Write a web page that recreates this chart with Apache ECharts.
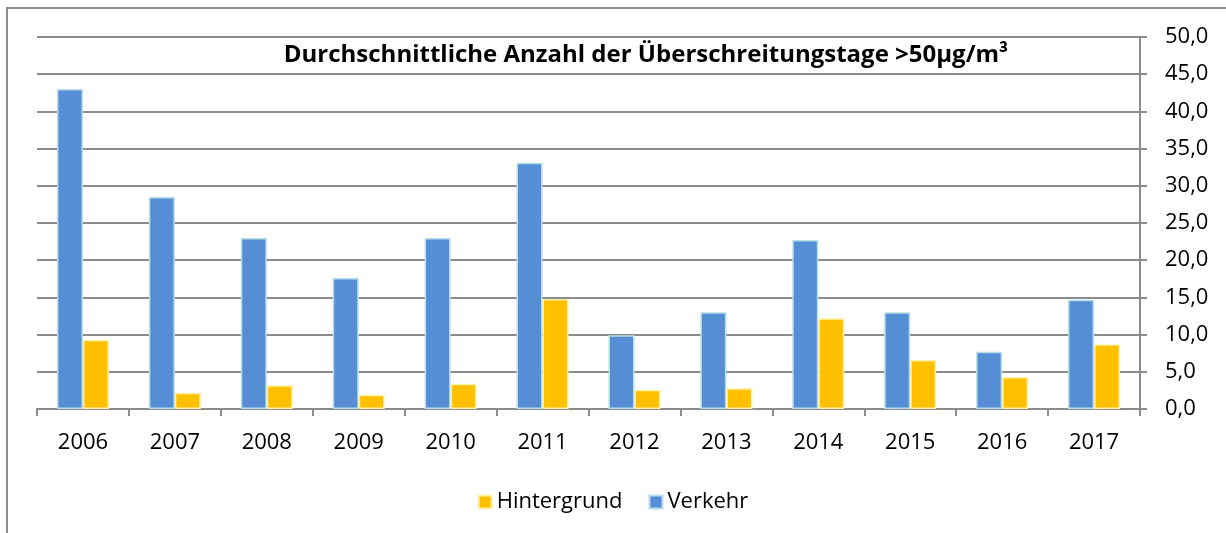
<!DOCTYPE html>
<html>
<head>
<meta charset="utf-8">
<script src="https://cdn.jsdelivr.net/npm/echarts@6/dist/echarts.min.js"></script>
<style>
  html, body { margin: 0; padding: 0; background: #fff; }
  #frame { position: absolute; left: 6px; top: 7px; width: 1230px; height: 540px; border-left: 2px solid #8c8c8c; border-top: 2px solid #8c8c8c; }
  #chart { position: absolute; left: 0; top: 0; width: 1226px; height: 533px; }
</style>
</head>
<body>
<div id="frame"></div>
<div id="chart"></div>
<script>
var years = ['2006', '2007', '2008', '2009', '2010', '2011', '2012', '2013', '2014', '2015', '2016', '2017'];
var verkehr = [43.0, 28.5, 23.0, 17.6, 23.0, 33.1, 9.9, 13.0, 22.7, 13.0, 7.7, 14.7];
var hintergrund = [9.3, 2.2, 3.2, 1.9, 3.4, 14.8, 2.6, 2.8, 12.2, 6.6, 4.3, 8.7];

var font = 'Open Sans';

var chart = echarts.init(document.getElementById('chart'));

var option = {
    animation: false,
    title: {
        text: 'Durchschnittliche Anzahl der Überschreitungstage >50µg/m³',
        left: 641,
        textAlign: 'center',
        top: 38,
        textStyle: {fontFamily: font, fontWeight: 'bold', fontSize: 24, color: '#000'}
    },
    legend: {
        data: ['Hintergrund', 'Verkehr'],
        top: 486,
        left: 'center',
        icon: 'rect',
        itemWidth: 13,
        itemHeight: 13,
        itemGap: 26,
        textStyle: {fontFamily: font, fontSize: 22, color: '#000'}
    },
    grid: {left: 37, right: 86, top: 37, bottom: 124},
    xAxis: {
        type: 'category',
        data: years,
        axisLine: {lineStyle: {color: '#8c8c8c', width: 2}},
        axisTick: {show: true, length: 7, lineStyle: {color: '#8c8c8c', width: 2}},
        axisLabel: {fontFamily: font, fontSize: 22, color: '#000', margin: 23}
    },
    yAxis: {
        type: 'value',
        position: 'right',
        min: 0,
        max: 50,
        interval: 5,
        axisLine: {show: true, lineStyle: {color: '#8c8c8c', width: 2}},
        axisTick: {show: true, inside: false, length: 7, lineStyle: {color: '#8c8c8c', width: 2}},
        splitLine: {lineStyle: {color: '#8c8c8c', width: 2}},
        axisLabel: {
            fontFamily: font, fontSize: 22, color: '#000', margin: 25,
            formatter: function (v) { return v.toFixed(1).replace('.', ','); }
        }
    },
    series: [
        {
            name: 'Verkehr',
            type: 'bar',
            data: verkehr,
            barWidth: 26,
            barGap: '0%',
            itemStyle: {color: '#558ed5', borderColor: '#b7dde8', borderWidth: 1.5}
        },
        {
            name: 'Hintergrund',
            type: 'bar',
            data: hintergrund,
            barWidth: 26,
            itemStyle: {color: '#ffc000', borderColor: '#fff2a8', borderWidth: 1.5}
        }
    ]
};

chart.setOption(option);
</script>
</body>
</html>
